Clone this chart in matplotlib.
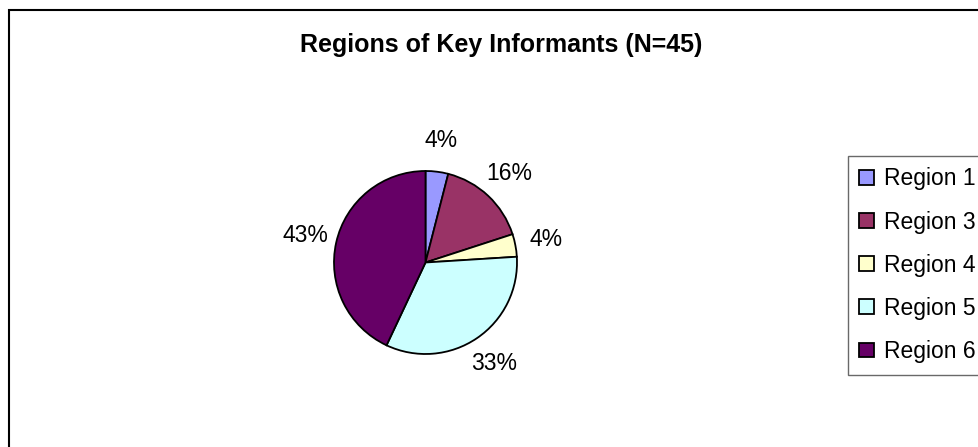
import matplotlib
matplotlib.use("Agg")
import matplotlib.pyplot as plt
from matplotlib.patches import Patch, Rectangle

plt.rcParams["font.family"] = ["Liberation Sans", "DejaVu Sans"]

# data
regions = ["Region 1", "Region 3", "Region 4", "Region 5", "Region 6"]
shares = [4, 16, 4, 33, 43]
colors = ["#9999FF", "#993366", "#FFFFCC", "#CCFFFF", "#660066"]
title = "Regions of Key Informants (N=45)"

W, H = 979, 447
fig = plt.figure(figsize=(W / 100, H / 100), dpi=100)

# outer chart-area border (runs off the right and bottom edges)
fig.patches.append(Rectangle((9 / W, -0.05), 1.2, 1 - 10 / H + 0.05,
                             transform=fig.transFigure, fill=False,
                             edgecolor="black", linewidth=1.5))

# pie: centre (425.5, 262.5) px, radius 91.5 px
cx, cy, r = 425.5, 262.5, 91.5
ax = fig.add_axes([(cx - r) / W, 1 - (cy + r) / H, 2 * r / W, 2 * r / H])
wedges, _, autotexts = ax.pie(
    shares, colors=colors, startangle=90, counterclock=False,
    autopct=lambda p: f"{p:.0f}%", pctdistance=1.34,
    wedgeprops=dict(edgecolor="black", linewidth=1.3),
    textprops=dict(fontsize=16.5, color="black"),
)
ax.set_xlim(-1, 1)
ax.set_ylim(-1, 1)
ax.axis("off")

fig.text(501 / W, 1 - 45 / H, title, ha="center", va="center",
         fontsize=18, fontweight="bold")

handles = [Patch(facecolor=c, edgecolor="black", linewidth=1.3) for c in colors]
leg = fig.legend(handles, regions, loc="upper left",
                 bbox_to_anchor=(848 / W, 1 - 156 / H),
                 bbox_transform=fig.transFigure, fontsize=16.5,
                 frameon=True, fancybox=False, borderaxespad=0,
                 handlelength=0.62, handleheight=0.62, handletextpad=0.45,
                 labelspacing=0.88, borderpad=0.5)
leg.get_frame().set_edgecolor("#444444")
leg.get_frame().set_linewidth(1.0)

fig.savefig("out.png", dpi=100)
